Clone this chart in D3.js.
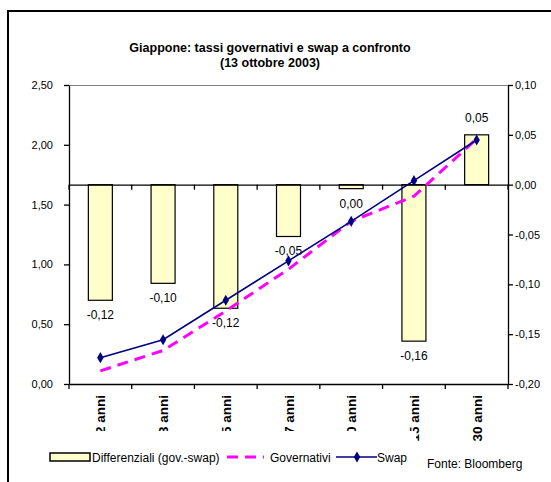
<!DOCTYPE html>
<html>
<head>
<meta charset="utf-8">
<script src="https://cdn.jsdelivr.net/npm/d3@7"></script>
<style>
  html, body { margin: 0; padding: 0; background: #fff; }
  svg { display: block; }
  text { font-family: "Liberation Sans", Arial, sans-serif; fill: #000; }
</style>
</head>
<body>
<script>
// Scadenze e dati (13 ottobre 2003)
const categories = ["2 anni", "3 anni", "5 anni", "7 anni", "10 anni", "15 anni", "30 anni"];
const differenziali = [-0.116, -0.099, -0.124, -0.052, -0.004, -0.157, 0.050];
const governativi = [0.11, 0.28, 0.61, 0.96, 1.36, 1.57, 2.05];
const swap = [0.22, 0.37, 0.70, 1.03, 1.36, 1.70, 2.04];
const leftTicks = [0, 0.5, 1, 1.5, 2, 2.5];
const rightTicks = [-0.2, -0.15, -0.1, -0.05, 0, 0.05, 0.1];
const titleLines = ["Giappone: tassi governativi e swap a confronto", "(13 ottobre 2003)"];
const legendLabels = ["Differenziali (gov.-swap)", "Governativi", "Swap"];
const sourceNote = "Fonte: Bloomberg";

const W = 551, H = 482;
const plot = { left: 69, right: 508, top: 85, bottom: 384 };

const svg = d3.select("body").append("svg").attr("width", W).attr("height", H);

// italian number format: comma as decimal separator, plain hyphen for negatives
const it = d3.formatLocale({ decimal: ",", thousands: ".", grouping: [3], currency: ["€", ""], minus: "-" });
const f2 = it.format(".2f");
const fmt2 = v => { const s = f2(v); return s === "-0,00" ? "0,00" : s; };

// outer chart frame
svg.append("rect")
  .attr("x", 8).attr("y", 11).attr("width", 600).attr("height", 600)
  .attr("fill", "#fff").attr("stroke", "#000").attr("stroke-width", 2);

const x = d3.scaleBand().domain(categories).range([plot.left, plot.right]).padding(0);
const yL = d3.scaleLinear().domain([0, 2.5]).range([plot.bottom, plot.top]);
const yR = d3.scaleLinear().domain([-0.2, 0.1]).range([plot.bottom, plot.top]);

// plot area top border
svg.append("line")
  .attr("x1", plot.left).attr("x2", plot.right)
  .attr("y1", plot.top + 0.5).attr("y2", plot.top + 0.5)
  .attr("stroke", "#808080").attr("stroke-width", 1);

// bars (right axis)
const barW = 24;
svg.append("g").selectAll("rect").data(differenziali).join("rect")
  .attr("x", (d, i) => x(categories[i]) + x.bandwidth() / 2 - barW / 2)
  .attr("y", d => yR(Math.max(0, d)))
  .attr("width", barW)
  .attr("height", d => Math.abs(yR(d) - yR(0)))
  .attr("fill", "#FFFFCC").attr("stroke", "#000").attr("stroke-width", 1.2);

// category boundary ticks hanging below a horizontal axis line
function bandTicks(g) {
  g.selectAll(".tick").remove();
  g.select(".domain").attr("stroke", "#000").attr("stroke-width", 1.3);
  g.selectAll("line.b").data(d3.range(categories.length + 1)).join("line")
    .attr("class", "b")
    .attr("x1", i => plot.left + i * x.bandwidth()).attr("x2", i => plot.left + i * x.bandwidth())
    .attr("y1", 0).attr("y2", 5).attr("stroke", "#000").attr("stroke-width", 1.3);
}

// secondary category axis at zero of the right scale
svg.append("g").attr("transform", `translate(0,${yR(0)})`)
  .call(d3.axisBottom(x).tickSize(0).tickFormat(""))
  .call(bandTicks);

// bar value labels
svg.append("g").selectAll("text").data(differenziali).join("text")
  .attr("x", (d, i) => x(categories[i]) + x.bandwidth() / 2)
  .attr("y", d => d >= 0 ? yR(d) - 12.5 : yR(d) + 19)
  .attr("text-anchor", "middle")
  .attr("font-size", 12)
  .text(d => fmt2(d));

// lines (left axis)
const cx = i => x(categories[i]) + x.bandwidth() / 2;
const line = d3.line().x((d, i) => cx(i)).y(d => yL(d));

svg.append("path").datum(governativi)
  .attr("d", line).attr("fill", "none")
  .attr("stroke", "#FF00FF").attr("stroke-width", 3)
  .attr("stroke-dasharray", "11,7");

svg.append("path").datum(swap)
  .attr("d", line).attr("fill", "none")
  .attr("stroke", "#000080").attr("stroke-width", 1.6);

const diamond = d3.symbol().type(d3.symbolDiamond).size(36);
svg.append("g").selectAll("path").data(swap).join("path")
  .attr("d", diamond)
  .attr("transform", (d, i) => `translate(${cx(i)},${yL(d)})`)
  .attr("fill", "#000080");

// left value axis
const axL = svg.append("g").attr("transform", `translate(${plot.left},0)`)
  .call(d3.axisLeft(yL).tickValues(leftTicks).tickSize(5).tickSizeOuter(0).tickFormat(fmt2));
axL.select(".domain").attr("stroke", "#000").attr("stroke-width", 1.3);
axL.selectAll(".tick line").attr("stroke", "#000").attr("stroke-width", 1.3);
axL.selectAll(".tick text").attr("font-family", "Liberation Sans, Arial, sans-serif")
  .attr("font-size", 11).attr("x", -16).attr("fill", "#000");

// right value axis
const axR = svg.append("g").attr("transform", `translate(${plot.right},0)`)
  .call(d3.axisRight(yR).tickValues(rightTicks).tickSize(5).tickSizeOuter(0).tickFormat(fmt2));
axR.select(".domain").attr("stroke", "#000").attr("stroke-width", 1.3);
axR.selectAll(".tick line").attr("stroke", "#000").attr("stroke-width", 1.3);
axR.selectAll(".tick text").attr("font-family", "Liberation Sans, Arial, sans-serif")
  .attr("font-size", 11).attr("x", 7).attr("fill", "#000");

// primary category axis at the bottom
svg.append("g").attr("transform", `translate(0,${plot.bottom})`)
  .call(d3.axisBottom(x).tickSize(0).tickFormat(""))
  .call(bandTicks);

// rotated category labels
svg.append("g").selectAll("text").data(categories).join("text")
  .attr("transform", d => `translate(${x(d) + x.bandwidth() / 2 + 5},${plot.bottom + 11}) rotate(-90)`)
  .attr("text-anchor", "end")
  .attr("font-size", 13.5).attr("font-weight", "bold")
  .text(d => d);

// title
svg.append("g").selectAll("text").data(titleLines).join("text")
  .attr("x", 270).attr("y", (d, i) => 52 + i * 15)
  .attr("text-anchor", "middle")
  .attr("font-size", 12.5).attr("font-weight", "bold")
  .text(d => d);

// legend (white box sits over the lower part of the category labels)
const lg = svg.append("g");
lg.append("rect").attr("x", 44).attr("y", 431).attr("width", 372).attr("height", 48).attr("fill", "#fff");
lg.append("rect").attr("x", 50).attr("y", 453).attr("width", 40).attr("height", 8)
  .attr("fill", "#FFFFCC").attr("stroke", "#000").attr("stroke-width", 1.5);
lg.append("text").attr("x", 92).attr("y", 462).attr("font-size", 12).text(legendLabels[0]);
lg.append("line").attr("x1", 227).attr("x2", 264).attr("y1", 457).attr("y2", 457)
  .attr("stroke", "#FF00FF").attr("stroke-width", 3).attr("stroke-dasharray", "11,7");
lg.append("text").attr("x", 270).attr("y", 462).attr("font-size", 12).text(legendLabels[1]);
lg.append("line").attr("x1", 336).attr("x2", 377).attr("y1", 457).attr("y2", 457)
  .attr("stroke", "#000080").attr("stroke-width", 1.6);
lg.append("path").attr("d", diamond).attr("transform", "translate(357,457)").attr("fill", "#000080");
lg.append("text").attr("x", 377).attr("y", 462).attr("font-size", 12).text(legendLabels[2]);

svg.append("text").attr("x", 427).attr("y", 468).attr("font-size", 12).text(sourceNote);
</script>
</body>
</html>
